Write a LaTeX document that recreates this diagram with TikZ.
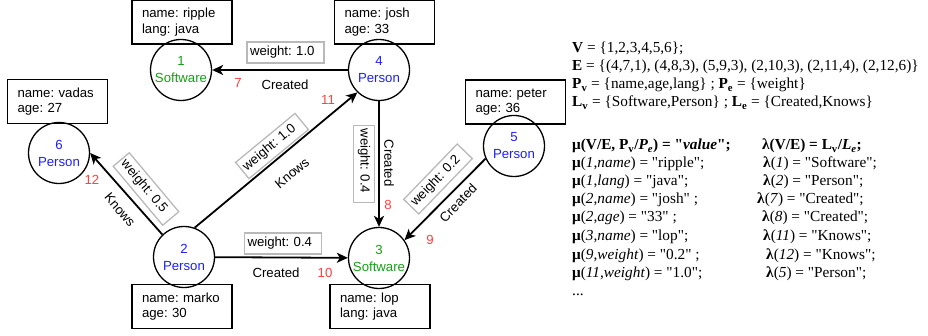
\documentclass[tikz,border=0pt]{standalone}
\usepackage{fontspec}
\setmainfont{Liberation Serif}[Ligatures=TeXOff]
\setsansfont{Liberation Sans}[Ligatures=TeXOff]
\usetikzlibrary{arrows.meta}
\definecolor{persblue}{RGB}{30,30,255}
\definecolor{softgreen}{RGB}{20,160,20}
\definecolor{idred}{RGB}{255,64,64}
\definecolor{wgray}{RGB}{185,185,185}
\begin{document}
\frenchspacing
\begin{tikzpicture}[x=1pt,y=-1pt,
    vertex/.style={circle,draw,line width=1.3pt,minimum size=61pt,inner sep=0pt,align=center,
        font=\sffamily\fontsize{13.2}{17}\selectfont},
    props/.style={rectangle,draw,line width=1.3pt,text width=80pt,inner xsep=10pt,inner ysep=0pt,
        minimum height=44pt,align=left,font=\sffamily\fontsize{13.2}{15.5}\selectfont},
    wbox/.style={rectangle,draw=wgray,line width=1.3pt,text width=71pt,inner xsep=3pt,inner ysep=0pt,
        minimum height=21pt,align=left,font=\sffamily\fontsize{13.2}{15}\selectfont},
    elabel/.style={inner sep=0pt,font=\sffamily\fontsize{13.2}{15}\selectfont},
    eid/.style={inner sep=0pt,text=idred,font=\sffamily\fontsize{13.2}{15}\selectfont},
    rel/.style={line width=1.8pt,-{Stealth[length=11pt,width=10pt,inset=3pt]}},
    formula/.style={anchor=base west,inner sep=0pt,font=\fontsize{15.3}{18}\selectfont}]
\useasboundingbox (0,0) rectangle (928,336);

\node[vertex,text=softgreen] (v1) at (181,70) {1\\Software};
\node[vertex,text=persblue] (v2) at (184,257) {2\\Person};
\node[vertex,text=softgreen] (v3) at (379,258) {3\\Software};
\node[vertex,text=persblue] (v4) at (379,70) {4\\Person};
\node[vertex,text=persblue] (v5) at (514,146) {5\\Person};
\node[vertex,text=persblue] (v6) at (59,153) {6\\Person};

\node[props] (p1) at (182,22) {name: ripple\\lang: java};
\node[props] (p4) at (384.5,22) {name: josh\\age: 33};
\node[props] (p6) at (57.5,101.5) {name: vadas\\age: 27};
\node[props] (p5) at (515.5,102) {name: peter\\age: 36};
\node[props] (p2) at (182,306.5) {name: marko\\age: 30};
\node[props] (p3) at (380,306.5) {name: lop\\lang: java};

\draw[rel] (v4) -- (v1);
\draw[rel] (v4) -- (v3);
\draw[rel] (v5.204) -- (v3.35);
\draw[rel] (v2) -- (v3);
\draw[rel] (v2.70) -- (v4.226);
\draw[rel] (v2.134) -- (v6.east);

\node[wbox] (w7) at (285.5,52.5) {weight: 1.0};
\node[elabel] (l7) at (285,85) {Created};
\node[eid] (e7) at (238,83) {7};

\node[wbox,rotate=-90] (w8) at (364,164) {weight: 0.4};
\node[elabel,rotate=-90] (l8) at (389,163) {Created};
\node[eid] (e8) at (388,205) {8};

\node[wbox,rotate=46] (w9) at (438,179) {weight: 0.2};
\node[elabel,rotate=46] (l9) at (458,203) {Created};
\node[eid] (e9) at (430,240) {9};

\node[wbox] (w10) at (283,243.5) {weight: 0.4};
\node[elabel] (l10) at (276,273) {Created};
\node[eid] (e10) at (325,273) {10};

\node[wbox,rotate=39.5] (w11) at (272,146) {weight: 1.0};
\node[elabel,rotate=39.5] (l11) at (292,173) {Knows};
\node[eid] (e11) at (328,100) {11};

\node[wbox,rotate=-50] (w12) at (146,189) {weight: 0.5};
\node[elabel,rotate=-50] (l12) at (120,210) {Knows};
\node[eid] (e12) at (92,180) {12};

\node[formula] (fv) at (572,53) {\textbf{V} = \{1,2,3,4,5,6\};};
\node[formula] (fe) at (572,71) {\textbf{E} = \{(4,7,1), (4,8,3), (5,9,3), (2,10,3), (2,11,4), (2,12,6)\}};
\node[formula] (fp) at (572,89) {\textbf{P\textsubscript{v}} = \{name,age,lang\} ; \textbf{P\textsubscript{e}} = \{weight\}};
\node[formula] (fl) at (572,107) {\textbf{L\textsubscript{v}} = \{Software,Person\} ; \textbf{L\textsubscript{e}} = \{Created,Knows\}};

\node[formula] (mu0) at (572,150) {\textbf{μ(V/E, P\textsubscript{v}/\textit{P\textsubscript{e}}) = "\textit{value}";}};
\node[formula] (mu1) at (572,168) {\textbf{μ}(\textit{1},\textit{name}) = "ripple";};
\node[formula] (mu2) at (572,186) {\textbf{μ}(\textit{1},\textit{lang}) = "java";};
\node[formula] (mu3) at (572,204) {\textbf{μ}(\textit{2},\textit{name}) = "josh" ;};
\node[formula] (mu4) at (572,222) {\textbf{μ}(\textit{2},\textit{age}) = "33" ;};
\node[formula] (mu5) at (572,240.5) {\textbf{μ}(\textit{3},\textit{name}) = "lop";};
\node[formula] (mu6) at (572,259.5) {\textbf{μ}(\textit{9},\textit{weight}) = "0.2" ;};
\node[formula] (mu7) at (572,278) {\textbf{μ}(\textit{11},\textit{weight}) = "1.0";};
\node[formula] (mu8) at (572,295) {...};

\node[formula] (la0) at (762,150) {\textbf{λ(V/E) = L\textsubscript{v}/\textit{L\textsubscript{e}};}};
\node[formula] (la1) at (763,168) {\textbf{λ}(\textit{1}) = "Software";};
\node[formula] (la2) at (763,186) {\textbf{λ}(\textit{2}) = "Person";};
\node[formula] (la3) at (757,204) {\textbf{λ}(\textit{7}) = "Created";};
\node[formula] (la4) at (762,222) {\textbf{λ}(\textit{8}) = "Created";};
\node[formula] (la5) at (763,240.5) {\textbf{λ}(\textit{11}) = "Knows";};
\node[formula] (la6) at (766,259.5) {\textbf{λ}(\textit{12}) = "Knows";};
\node[formula] (la7) at (766,278) {\textbf{λ}(\textit{5}) = "Person";};
\end{tikzpicture}
\end{document}
